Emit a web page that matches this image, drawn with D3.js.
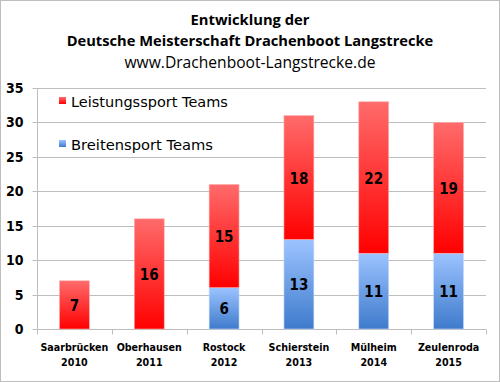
<!DOCTYPE html>
<html><head><meta charset="utf-8">
<script src="https://cdn.jsdelivr.net/npm/d3@7"></script>
<style>body{margin:0;background:#fff}svg{display:block}</style>
</head><body>
<script>
const categories = ["Saarbrücken|2010","Oberhausen|2011","Rostock|2012","Schierstein|2013","Mülheim|2014","Zeulenroda|2015"];
const breitensport = [0,0,6,13,11,11];
const leistungssport = [7,16,15,18,22,19];
const yTicks = [0,5,10,15,20,25,30,35];
const titleLines = ["Entwicklung der","Deutsche Meisterschaft Drachenboot Langstrecke","www.Drachenboot-Langstrecke.de"];

(function(){
const W=500,H=382;
const svg=d3.select("body").append("svg").attr("width",W).attr("height",H);
svg.append("rect").attr("x",0.5).attr("y",0.5).attr("width",W-1).attr("height",H-1).attr("fill","#fff").attr("stroke","#bdbdbd");

const defs=svg.append("defs");
const gr=defs.append("linearGradient").attr("id","gRed").attr("x1",0).attr("y1",0).attr("x2",0).attr("y2",1);
gr.append("stop").attr("offset","0%").attr("stop-color","#ff6b6b");
gr.append("stop").attr("offset","100%").attr("stop-color","#ff0000");
const gb=defs.append("linearGradient").attr("id","gBlue").attr("x1",0).attr("y1",0).attr("x2",0).attr("y2",1);
gb.append("stop").attr("offset","0%").attr("stop-color","#9cc3ff");
gb.append("stop").attr("offset","100%").attr("stop-color","#3f7bcc");

const pl=37,pr=486,pt=88,pb=329;
const x=d3.scaleBand().domain(categories).range([pl,pr]).paddingInner(0.6).paddingOuter(0.3);
const y=d3.scaleLinear().domain([0,35]).range([pb,pt]);

function fit(sel,w){const n=sel.node();const l=n.getComputedTextLength();const fs=parseFloat(sel.attr("font-size"));const nf=fs*w/l;sel.attr("font-size",nf);return nf;}
const cond="'DejaVu Sans Condensed','DejaVu Sans', sans-serif";

const tf="'Open Sans', sans-serif";
const t1=svg.append("text").attr("x",250).attr("y",25).attr("text-anchor","middle").attr("font-family",tf).attr("font-weight","bold").attr("font-size",15).text(titleLines[0]);
fit(t1,119);
const t2=svg.append("text").attr("x",250).attr("y",46).attr("text-anchor","middle").attr("font-family",tf).attr("font-weight","bold").attr("font-size",15).text(titleLines[1]);
fit(t2,367);
const t3=svg.append("text").attr("x",250).attr("y",68).attr("text-anchor","middle").attr("font-family",tf).attr("font-size",15).text(titleLines[2]);
fit(t3,251);

svg.append("g").selectAll("line").data(yTicks.filter(d=>d>0)).join("line")
 .attr("x1",pl).attr("x2",pr).attr("y1",d=>Math.round(y(d))+0.5).attr("y2",d=>Math.round(y(d))+0.5)
 .attr("stroke","#bdbdbd").attr("stroke-width",1);

const ya=svg.append("g").attr("transform",`translate(${pl+0.5},0.5)`).call(d3.axisLeft(y).tickValues(yTicks).tickSize(5).tickPadding(10));
ya.select(".domain").attr("stroke","#bdbdbd").attr("d",`M0,${pt}V${pb}`);
ya.selectAll(".tick line").attr("stroke","#bdbdbd");
ya.selectAll(".tick text").attr("font-family",cond).attr("font-weight","bold").attr("font-size",14).attr("fill","#000").attr("text-anchor","end").attr("x",-14);
ya.selectAll(".tick").attr("transform",d=>`translate(0,${Math.round(y(d))})`);

const xa=svg.append("g").attr("transform",`translate(0,${pb+0.5})`);
xa.append("line").attr("x1",pl).attr("x2",pr).attr("stroke","#bdbdbd");
const bounds=d3.range(categories.length+1).map(i=>pl+i*(pr-pl)/categories.length);
xa.selectAll("line.tk").data(bounds).join("line").attr("class","tk")
 .attr("x1",d=>Math.round(d)+0.5).attr("x2",d=>Math.round(d)+0.5).attr("y1",0).attr("y2",5).attr("stroke","#bdbdbd");
const cl=xa.selectAll("text").data(categories).join("text")
 .attr("x",d=>x(d)+x.bandwidth()/2).attr("text-anchor","middle")
 .attr("font-family",cond).attr("font-weight","bold").attr("font-size",11);
cl.append("tspan").attr("x",d=>x(d)+x.bandwidth()/2).attr("y",21).text(d=>d.split("|")[0]);
cl.append("tspan").attr("x",d=>x(d)+x.bandwidth()/2).attr("y",36).text(d=>d.split("|")[1]);
const probe=cl.filter((d,i)=>i===0).select("tspan").node().getComputedTextLength();
cl.attr("font-size",11*68/probe);

const data=categories.map((c,i)=>({c,b:breitensport[i],l:leistungssport[i]}));
const g=svg.append("g");
data.forEach(d=>{
  const bx=x(d.c),bw=x.bandwidth(),cx=bx+bw/2;
  if(d.b>0){
    g.append("rect").attr("x",bx).attr("width",bw).attr("y",y(d.b)).attr("height",y(0)-y(d.b)).attr("fill","url(#gBlue)").attr("stroke","#c8dcff").attr("stroke-width",0.6);
    g.append("text").attr("x",cx).attr("y",(y(d.b)+y(0))/2+6).attr("text-anchor","middle").attr("font-family",cond).attr("font-size",15).attr("font-weight","bold").text(d.b);
  }
  const t=d.b+d.l;
  g.append("rect").attr("x",bx).attr("width",bw).attr("y",y(t)).attr("height",y(d.b)-y(t)).attr("fill","url(#gRed)").attr("stroke","#ffb0b0").attr("stroke-width",0.6);
  g.append("text").attr("x",cx).attr("y",(y(t)+y(d.b))/2+6).attr("text-anchor","middle").attr("font-family",cond).attr("font-size",15).attr("font-weight","bold").text(d.l);
});

const legend=[{n:"Leistungssport Teams",f:"url(#gRed)",y:107,w:157},{n:"Breitensport Teams",f:"url(#gBlue)",y:150,w:142}];
legend.forEach(l=>{
  svg.append("rect").attr("x",59).attr("y",l.y-10).attr("width",7).attr("height",7).attr("fill",l.f);
  const tt=svg.append("text").attr("x",71).attr("y",l.y).attr("font-family","'DejaVu Sans', sans-serif").attr("font-size",15).text(l.n);
  fit(tt,l.w);
});
})();
</script>
</body></html>
